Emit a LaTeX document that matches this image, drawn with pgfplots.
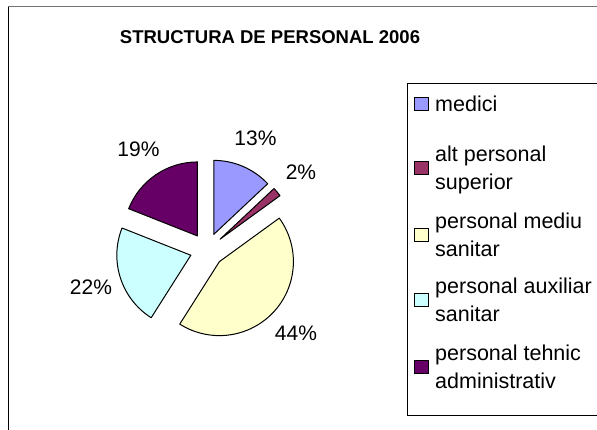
\documentclass[border=0pt]{standalone}
\usepackage{pgfplots}
\pgfplotsset{compat=1.18}
\usepackage{fontspec}
\setmainfont{Liberation Sans}
\usetikzlibrary{calc}
\definecolor{cmedici}{HTML}{9999FF}
\definecolor{calt}{HTML}{993366}
\definecolor{cmediu}{HTML}{FFFFCC}
\definecolor{caux}{HTML}{CCFFFF}
\definecolor{ctehnic}{HTML}{660066}

% #1 cumulative start (%), #2 share (%), #3 colour
\newcommand\slice[3]{%
  \filldraw[fill=#3, draw=black, line width=1pt, line join=round]
    ($(axis cs:207,250)+({90-3.6*(#1+#2/2)}:17pt)$)
    -- ++({90-3.6*#1}:74pt)
    arc[start angle={90-3.6*#1}, end angle={90-3.6*(#1+#2)}, radius=74pt]
    -- cycle;
  \node[font=\fontsize{21}{24}\selectfont]
    at ($(axis cs:207,250)+({90-3.6*(#1+#2/2)}:122pt)$) {#2\%};
}
% #1 y of first line, #2 colour, #3 text
\newcommand\legitem[3]{%
  \draw[fill=#2, draw=black, line width=0.9pt] (414,#1-6.5) rectangle (428,#1+6.5);
  \node[anchor=west, align=left, inner sep=0pt, font=\fontsize{21.5}{28}\selectfont,
        text depth=0pt] at (435,#1) {#3};
}

\begin{document}
\begin{tikzpicture}
\begin{axis}[
  width=597pt, height=430pt, scale only axis,
  xmin=0, xmax=597, ymin=0, ymax=430, y dir=reverse,
  hide axis, clip=false
]
% outer frame
\draw[black, line width=1pt] (8,440) -- (8,7);
\draw[black!55, line width=1pt] (8,7) -- (610,7);
\node[font=\bfseries\fontsize{18.5}{22}\selectfont] at (270,37) {STRUCTURA DE PERSONAL 2006};

\slice{0}{13}{cmedici}
\slice{13}{2}{calt}
\slice{15}{44}{cmediu}
\slice{59}{22}{caux}
\slice{81}{19}{ctehnic}

% legend
\draw[black, line width=1pt] (620,84) -- (407,84) -- (407,415) -- (620,415);
\legitem{104}{cmedici}{medici}
\legitem{168}{calt}{alt personal\\superior}
\legitem{235}{cmediu}{personal mediu\\sanitar}
\legitem{300}{caux}{personal auxiliar\\sanitar}
\legitem{367}{ctehnic}{personal tehnic\\administrativ}
\end{axis}
\pgfresetboundingbox
\useasboundingbox (current axis.south west) rectangle (current axis.north east);
\end{tikzpicture}
\end{document}
